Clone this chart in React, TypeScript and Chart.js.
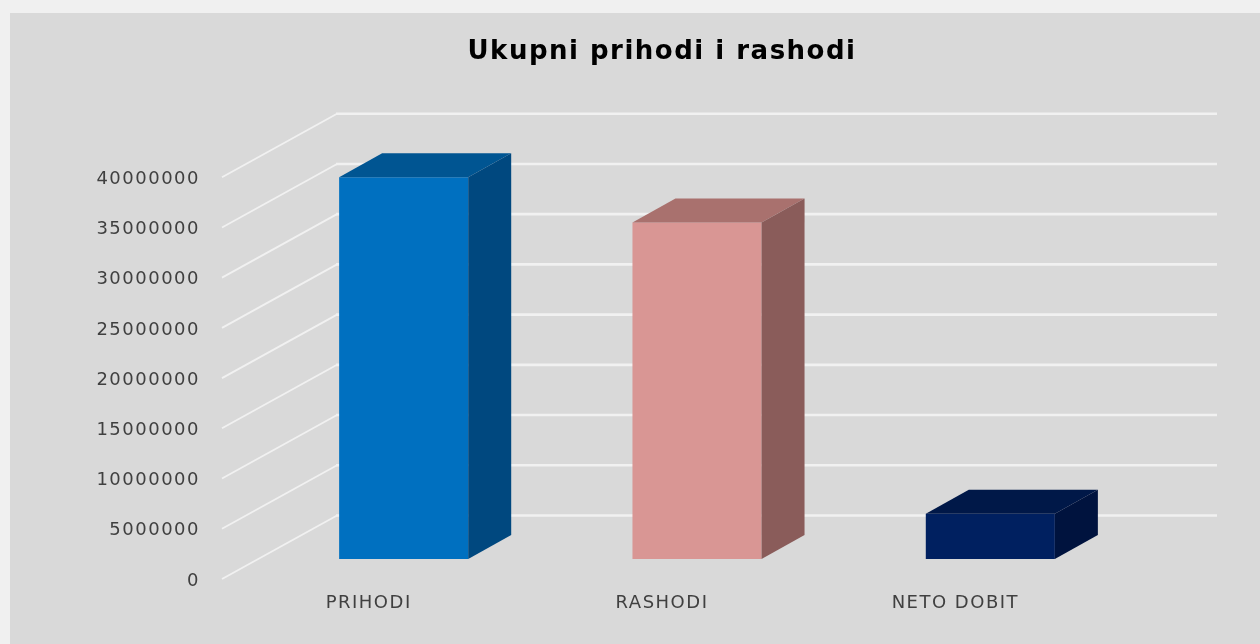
import React, { useEffect, useRef } from "react";
import { Chart, registerables } from "chart.js";

Chart.register(...registerables);

const categories = ["PRIHODI", "RASHODI", "NETO DOBIT"];
const values = [38000000, 33500000, 4500000];
const frontColors = ["#0070c0", "#d99694", "#002060"];
const sideColors = ["#00487f", "#8a5c5a", "#00133e"];
const topColors = ["#005592", "#a9716e", "#001848"];
const chartTitle = "Ukupni prihodi i rashodi";

const WALL_DX = 115;
const WALL_DY = 63.5;
const BAR_SHIFT_X = 35;
const BAR_SHIFT_Y = 20;
const DEPTH_DX = 43;
const DEPTH_DY = 24;
const LETTER_SPACING = "1.5px";

const spacedText = {
  id: "spacedText",
  beforeUpdate(chart: any) {
    chart.ctx.letterSpacing = LETTER_SPACING;
  },
  beforeDraw(chart: any) {
    chart.ctx.letterSpacing = LETTER_SPACING;
  },
};

const walls3d = {
  id: "walls3d",
  beforeDatasetsDraw(chart: any) {
    const { ctx, chartArea, scales } = chart;
    ctx.save();
    ctx.strokeStyle = "#f1f1f1";
    ctx.lineCap = "butt";
    scales.y.ticks.forEach((t: any) => {
      const y = scales.y.getPixelForValue(t.value);
      ctx.lineWidth = 1.8;
      ctx.beginPath();
      ctx.moveTo(chartArea.left, y);
      ctx.lineTo(chartArea.left + WALL_DX, y - WALL_DY);
      ctx.stroke();
      ctx.lineWidth = 2.6;
      ctx.beginPath();
      ctx.moveTo(chartArea.left + WALL_DX - 1, y - WALL_DY);
      ctx.lineTo(chartArea.right + WALL_DX, y - WALL_DY);
      ctx.stroke();
    });
    ctx.restore();
    // the bars stand half way into the floor
    ctx.save();
    ctx.translate(BAR_SHIFT_X, -BAR_SHIFT_Y);
  },
  afterDatasetsDraw(chart: any) {
    const { ctx } = chart;
    const meta = chart.getDatasetMeta(0);
    meta.data.forEach((bar: any, i: number) => {
      const { x, y, base, width } = bar.getProps(["x", "y", "base", "width"], true);
      const l = x - width / 2;
      const r = x + width / 2;
      ctx.fillStyle = topColors[i];
      ctx.beginPath();
      ctx.moveTo(l, y);
      ctx.lineTo(l + DEPTH_DX, y - DEPTH_DY);
      ctx.lineTo(r + DEPTH_DX, y - DEPTH_DY);
      ctx.lineTo(r, y);
      ctx.closePath();
      ctx.fill();
      ctx.fillStyle = sideColors[i];
      ctx.beginPath();
      ctx.moveTo(r, y);
      ctx.lineTo(r + DEPTH_DX, y - DEPTH_DY);
      ctx.lineTo(r + DEPTH_DX, base - DEPTH_DY);
      ctx.lineTo(r, base);
      ctx.closePath();
      ctx.fill();
    });
    ctx.restore();
  },
};

export default function App() {
  const ref = useRef<HTMLCanvasElement>(null);
  useEffect(() => {
    document.body.style.margin = "0";
    const canvas = ref.current as HTMLCanvasElement;
    const chart = new Chart(canvas, {
      type: "bar",
      data: {
        labels: categories,
        datasets: [
          {
            data: values,
            backgroundColor: frontColors,
            barPercentage: 0.44,
            categoryPercentage: 1,
            clip: false as any,
          },
        ],
      },
      options: {
        responsive: false,
        animation: false,
        layout: { padding: { top: 13, right: 158, left: 0, bottom: 0 } },
        plugins: {
          legend: { display: false },
          tooltip: { enabled: false },
          title: {
            display: true,
            text: chartTitle,
            fullSize: false,
            color: "#000000",
            font: { family: "DejaVu Sans", size: 26, weight: "bold" },
            padding: { top: 24, bottom: 109 },
          },
        },
        scales: {
          x: {
            grid: { display: false, drawTicks: false },
            border: { display: false },
            ticks: {
              color: "#404040",
              font: { family: "DejaVu Sans", size: 18 },
              padding: 14,
              maxRotation: 0,
            },
            afterFit(axis: any) {
              axis.height = 65;
            },
          },
          y: {
            min: 0,
            max: 40000000,
            grid: { display: false, drawTicks: false },
            border: { display: false },
            ticks: {
              stepSize: 5000000,
              color: "#404040",
              font: { family: "DejaVu Sans", size: 18 },
              padding: 22,
              labelOffset: 2,
              callback: (v: any) => String(v),
            },
            afterFit(axis: any) {
              axis.width = 222;
            },
          },
        },
      },
      plugins: [spacedText, walls3d],
    } as any);
    return () => chart.destroy();
  }, []);
  return (
    <div style={{ position: "fixed", inset: 0, background: "#f0f0f0", overflow: "hidden" }}>
      <div style={{ position: "absolute", left: 10, top: 13, right: 0, bottom: 0, background: "#d9d9d9" }} />
      <canvas
        ref={ref}
        width={1260}
        height={644}
        style={{ position: "absolute", left: 0, top: 0, width: 1260, height: 644, filter: "blur(0.6px)" }}
      />
    </div>
  );
}
